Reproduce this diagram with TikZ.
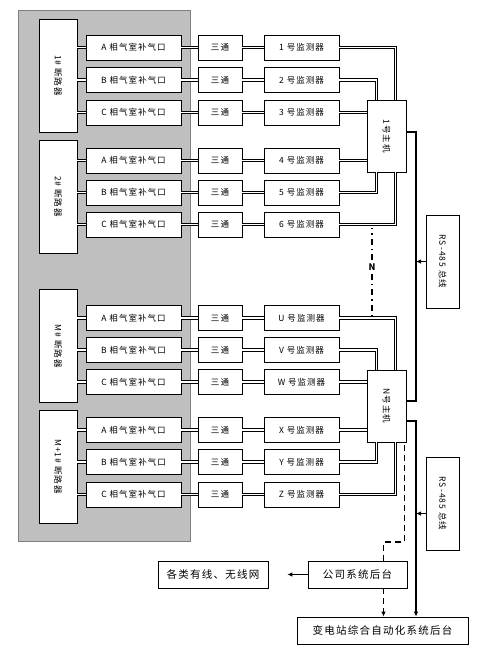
\documentclass[tikz,border=0pt]{standalone}
\usepackage{fontspec}
\setmainfont{Noto Sans CJK SC}[LetterSpace=12]
\usetikzlibrary{arrows.meta}

\begin{document}
\begin{tikzpicture}[x=1pt, y=-1pt, font=\fontsize{8.5}{10}\selectfont,
  box/.style={draw, fill=white, line width=0.7pt, inner sep=0pt},
  brkbox/.style={box, minimum width=38pt, minimum height=113pt},
  port/.style={box, minimum width=95pt, minimum height=25pt},
  tee/.style={box, minimum width=44pt, minimum height=25pt},
  mon/.style={box, minimum width=75pt, minimum height=25pt},
  hostbox/.style={box, minimum width=39pt, minimum height=72pt},
  rsbox/.style={box, minimum width=33pt, minimum height=93pt},
  backbox/.style={box, minimum height=27pt, font=\fontsize{10.5}{12}\selectfont},
  pipe/.style={double, double distance=1.2pt, line width=1.1pt},
  bus/.style={line width=1.2pt},
  arr/.style={-{Latex[length=5pt,width=4.5pt]}},
  ndash/.style={line width=1.1pt, dash pattern=on 6pt off 4pt on 1.5pt off 4pt},
  ldash/.style={line width=1.2pt, dash pattern=on 6pt off 4pt}]
  \useasboundingbox (0,0) rectangle (500,660);
  % breaker cabinet area
  \draw[fill=black!25, draw=black!50, line width=0.8pt] (18,10) rectangle (190,541);
  \node[brkbox] (brk1) at (58,75.5) {};
  \node[rotate=-90] (brk1txt) at (brk1) {1\# 断路器};
  \node[brkbox] (brk2) at (58,196.5) {};
  \node[rotate=-90] (brk2txt) at (brk2) {2\# 断路器};
  \node[brkbox] (brk3) at (58,346) {};
  \node[rotate=-90] (brk3txt) at (brk3) {M\# 断路器};
  \node[brkbox] (brk4) at (58,466.5) {};
  \node[rotate=-90] (brk4txt) at (brk4) {M+1\# 断路器};
  % one row per gas chamber
  \foreach \n/\y/\ph/\m/\b in {1/47.5/A/1/brk1, 2/80/B/2/brk1, 3/112.5/C/3/brk1,
      4/160.5/A/4/brk2, 5/192.5/B/5/brk2, 6/224.5/C/6/brk2,
      7/318/A/U/brk3, 8/350/B/V/brk3, 9/382/C/W/brk3,
      10/430/A/X/brk4, 11/462/B/Y/brk4, 12/494.5/C/Z/brk4} {
    \node[port] (p\n) at (133.5,\y) {\ph\ 相气室补气口};
    \node[tee] (t\n) at (220,\y) {三通};
    \node[mon] (m\n) at (301.5,\y) {\m\ 号监测器};
    \draw[pipe] (p\n.west) -- (p\n.west -| \b.east);
    \draw[pipe] (p\n) -- (t\n);
    \draw[pipe] (t\n) -- (m\n);
  }
  % hosts
  \node[hostbox] (host1) at (386.5,136) {};
  \node[rotate=-90] (host1txt) at (host1) {1号主机};
  \node[hostbox] (hostN) at (386.5,406) {};
  \node[rotate=-90] (hostNtxt) at (hostN) {N号主机};
  \draw[pipe] (m1.east) -| ([xshift=29pt]host1.north west);
  \draw[pipe] (m2.east) -| ([xshift=10pt]host1.north west);
  \draw[pipe] (m3.east) -- (m3.east -| host1.west);
  \draw[pipe] (m4.east) -- (m4.east -| host1.west);
  \draw[pipe] (m5.east) -| ([xshift=10pt]host1.south west);
  \draw[pipe] (m6.east) -| ([xshift=29pt]host1.south west);
  \draw[pipe] (m7.east) -| ([xshift=29pt]hostN.north west);
  \draw[pipe] (m8.east) -| ([xshift=10pt]hostN.north west);
  \draw[pipe] (m9.east) -- (m9.east -| hostN.west);
  \draw[pipe] (m10.east) -- (m10.east -| hostN.west);
  \draw[pipe] (m11.east) -| ([xshift=10pt]hostN.south west);
  \draw[pipe] (m12.east) -| ([xshift=29pt]hostN.south west);
  % N dots between the groups
  \node[font=\fontsize{9}{10}\selectfont\bfseries] (nlab) at (372,267) {N};
  \draw[ndash] (nlab.north) -- (372,228);
  \draw[ndash] (nlab.south) -- (372,316);
  % RS-485 buses
  \coordinate (busx) at (416,0);
  \node[rsbox] (rs1) at (442.5,261.5) {};
  \node[rotate=-90] (rs1txt) at (rs1) {RS-485 总线};
  \node[rsbox] (rs2) at (442.5,503.5) {};
  \node[rotate=-90] (rs2txt) at (rs2) {RS-485 总线};
  % back ends
  \node[backbox, minimum width=110pt] (net) at (213,574.5) {各类有线、无线网};
  \node[backbox, minimum width=99pt] (company) at (357.5,574.5) {公司系统后台};
  \node[backbox, minimum width=171pt] (station) at (382.5,630.5) {变电站综合自动化系统后台};
  \draw[bus] ([yshift=4pt]host1.east) -| (busx |- hostN.north) |- ([yshift=5pt]hostN.east);
  \draw[bus, arr] ([yshift=-15pt]hostN.east) -| (busx |- station.north);
  \draw[arr, line width=0.8pt] (rs1.west) -- (rs1.west -| busx);
  \draw[arr, line width=0.8pt] ([yshift=-10pt]rs2.west) -- ([yshift=-10pt]rs2.west -| busx);
  \draw[ldash] ([xshift=-2pt, yshift=-3pt]hostN.south east) |- (383.5,542) -- ([xshift=26pt]company.north);
  \draw[ldash, arr] ([xshift=26pt]company.south) -- ([xshift=26pt]company.south |- station.north);
  \draw[arr, line width=0.8pt, shorten >=19pt] (company) -- (net);
\end{tikzpicture}
\end{document}
